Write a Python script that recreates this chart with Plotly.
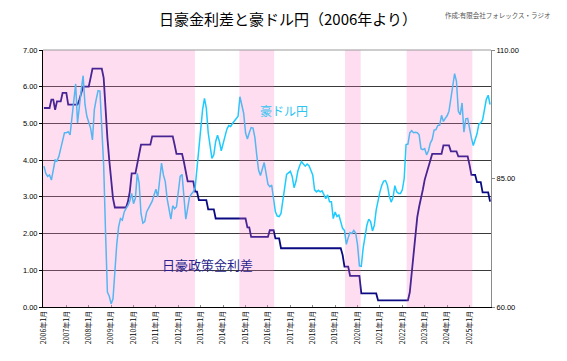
import plotly.graph_objects as go

YEARS = list(range(2006, 2026))
MONTH_LABELS = [f"{y}年{m}月" for y in YEARS for m in range(1, 13)]
TICK_LABELS = [f"{y}年1月" for y in YEARS]

# 日豪政策金利差 (%), monthly, Jan 2006 - Dec 2025
RATE_DIFF = [
    5.42, 5.42, 5.42, 5.42, 5.65, 5.65, 5.37, 5.60, 5.60, 5.60, 5.83, 5.83,  # 2006
    5.83, 5.51, 5.51, 5.51, 5.51, 5.51, 5.51, 5.65, 5.80, 6.00, 6.00, 6.00,  # 2007
    6.00, 6.24, 6.49, 6.49, 6.49, 6.49, 6.49, 6.49, 6.24, 5.30, 4.60, 4.00,  # 2008
    3.40, 2.96, 2.71, 2.71, 2.71, 2.71, 2.71, 2.71, 2.71, 2.87, 3.14, 3.64,  # 2009
    3.64, 3.64, 3.90, 4.14, 4.42, 4.42, 4.42, 4.42, 4.42, 4.42, 4.65, 4.65,  # 2010
    4.65, 4.65, 4.65, 4.65, 4.65, 4.65, 4.65, 4.65, 4.65, 4.65, 4.42, 4.17,  # 2011
    4.17, 4.17, 4.17, 3.95, 3.67, 3.42, 3.42, 3.42, 3.42, 3.14, 3.14, 2.91,  # 2012
    2.91, 2.91, 2.91, 2.91, 2.66, 2.66, 2.66, 2.66, 2.41, 2.41, 2.41, 2.41,  # 2013
    2.41, 2.41, 2.41, 2.41, 2.41, 2.41, 2.41, 2.41, 2.41, 2.41, 2.41, 2.41,  # 2014
    2.41, 2.17, 2.17, 1.91, 1.91, 1.91, 1.91, 1.91, 1.91, 1.91, 1.91, 1.91,  # 2015
    1.91, 2.09, 2.09, 2.09, 1.87, 1.87, 1.87, 1.60, 1.60, 1.60, 1.60, 1.60,  # 2016
    1.60, 1.60, 1.60, 1.60, 1.60, 1.60, 1.60, 1.60, 1.60, 1.60, 1.60, 1.60,  # 2017
    1.60, 1.60, 1.60, 1.60, 1.60, 1.60, 1.60, 1.60, 1.60, 1.60, 1.60, 1.60,  # 2018
    1.60, 1.60, 1.60, 1.60, 1.42, 1.10, 1.10, 1.10, 0.85, 0.85, 0.85, 0.85,  # 2019
    0.85, 0.85, 0.37, 0.37, 0.37, 0.37, 0.37, 0.37, 0.37, 0.37, 0.37, 0.18,  # 2020
    0.18, 0.18, 0.18, 0.18, 0.18, 0.18, 0.18, 0.18, 0.18, 0.18, 0.18, 0.18,  # 2021
    0.18, 0.18, 0.18, 0.18, 0.40, 0.93, 1.50, 2.00, 2.45, 2.73, 2.94, 3.20,  # 2022
    3.47, 3.65, 3.80, 4.00, 4.17, 4.17, 4.17, 4.17, 4.17, 4.17, 4.40, 4.40,  # 2023
    4.40, 4.40, 4.24, 4.24, 4.24, 4.24, 4.10, 4.10, 4.10, 4.10, 4.10, 4.10,  # 2024
    3.87, 3.60, 3.60, 3.60, 3.40, 3.40, 3.40, 3.12, 3.12, 3.12, 3.12, 2.87,  # 2025
]

# 豪ドル円 (円), monthly, Jan 2006 - Dec 2025
AUDJPY = [
    87.4, 86.0, 85.4, 85.7, 84.7, 86.4, 88.6, 88.4, 89.3, 90.8, 92.2, 93.9,  # 2006
    93.9, 94.1, 93.5, 97.1, 100.0, 103.4, 95.8, 99.7, 102.3, 105.0, 99.4, 97.1,  # 2007
    95.8, 94.8, 92.5, 98.4, 100.4, 102.1, 102.0, 94.5, 87.6, 74.6, 62.9, 62.1,  # 2008
    60.6, 61.6, 67.5, 72.1, 75.6, 77.2, 76.9, 78.5, 79.2, 79.7, 80.6, 82.1,  # 2009
    80.1, 81.2, 86.0, 84.1, 78.2, 76.3, 76.6, 78.5, 79.2, 80.0, 80.6, 81.8,  # 2010
    82.9, 81.4, 85.0, 88.0, 85.7, 84.4, 81.1, 79.3, 77.1, 79.7, 79.1, 79.5,  # 2011
    82.4, 85.4, 85.8, 80.8, 77.1, 79.2, 81.4, 82.0, 82.4, 83.2, 87.4, 91.2,  # 2012
    95.4, 98.4, 100.6, 98.7, 93.9, 90.9, 88.9, 89.6, 92.2, 93.4, 92.2, 90.4,  # 2013
    91.7, 93.4, 94.6, 95.3, 95.1, 95.7, 96.1, 96.7, 97.1, 100.9, 99.3, 97.7,  # 2014
    93.9, 92.7, 93.9, 94.9, 94.8, 93.0, 89.6, 86.6, 85.6, 87.0, 88.1, 86.0,  # 2015
    83.9, 83.4, 83.7, 81.1, 78.5, 77.7, 77.6, 78.2, 80.6, 82.9, 85.8, 86.1,  # 2016
    86.4, 85.4, 83.2, 84.4, 86.4, 87.5, 88.3, 87.8, 87.4, 87.8, 87.5, 86.6,  # 2017
    85.7, 82.8, 82.4, 82.7, 82.4, 82.6, 81.9, 81.1, 81.8, 80.5, 80.5, 77.2,  # 2018
    78.5, 77.6, 77.9, 76.7, 75.3, 74.9, 72.2, 73.5, 74.5, 74.3, 74.9, 74.4,  # 2019
    72.1, 68.0, 67.9, 71.4, 74.1, 75.9, 77.1, 76.6, 74.8, 75.9, 78.9, 80.8,  # 2020
    82.4, 83.7, 84.5, 84.6, 83.7, 81.6, 80.4, 81.3, 83.6, 82.4, 82.1, 82.1,  # 2021
    82.8, 85.0, 91.6, 91.7, 93.9, 94.3, 93.9, 94.0, 93.9, 93.5, 90.8, 90.6,  # 2022
    90.8, 89.6, 90.4, 91.9, 92.6, 94.4, 94.5, 95.3, 95.4, 97.3, 96.1, 96.7,  # 2023
    97.2, 98.1, 100.6, 103.4, 105.4, 103.9, 98.1, 97.4, 99.7, 94.0, 96.6, 96.7,  # 2024
    94.5, 92.9, 91.4, 92.6, 93.7, 95.6, 95.8, 96.4, 98.1, 100.4, 101.2, 99.4,  # 2025
]

# shaded periods (category positions)
BAND_START = [-0.5, 104.7, 161.3, 194.3]
BAND_END = [80.9, 123.3, 169.7, 229.5]

FONT_JP = "Noto Sans CJK JP"

fig = go.Figure()
fig.add_trace(go.Scatter(
    x=MONTH_LABELS, y=AUDJPY, yaxis="y2", mode="lines",
    line=dict(color="#1ECBFF", width=1.5), name="豪ドル円",
))
fig.add_trace(go.Scatter(
    x=MONTH_LABELS, y=RATE_DIFF, yaxis="y", mode="lines",
    line=dict(color="#0A0A82", width=1.8), name="日豪政策金利差",
))

shapes = []
for s, e in zip(BAND_START, BAND_END):
    shapes.append(dict(type="rect", xref="x", yref="paper", x0=s, x1=e, y0=0, y1=1,
                       fillcolor="rgb(255,120,200)", opacity=0.25, layer="above",
                       line=dict(width=0)))
shapes.append(dict(type="line", xref="paper", yref="paper", x0=0, x1=1, y0=1, y1=1,
                   line=dict(color="#9a9a9a", width=1), layer="above"))

fig.update_layout(
    width=567, height=361,
    margin=dict(l=43, r=76, t=50, b=54),
    paper_bgcolor="white", plot_bgcolor="white",
    showlegend=False, hovermode=False,
    font=dict(family=FONT_JP, size=7, color="#000000"),
    title=dict(text="日豪金利差と豪ドル円（2006年より）", x=0.508, y=0.946,
               xanchor="center", yanchor="middle",
               font=dict(family=FONT_JP, size=15, color="#000000")),
    xaxis=dict(type="category", range=[-0.5, 239.5],
               tickmode="array", tickvals=TICK_LABELS, ticktext=TICK_LABELS,
               tickangle=-90, tickfont=dict(family=FONT_JP, size=7),
               showgrid=False, showline=True, linecolor="#000000", linewidth=1,
               ticks="inside", ticklen=2, tickcolor="#888888"),
    yaxis=dict(range=[0, 7], dtick=1, tickformat=".2f",
               tickfont=dict(family="Liberation Sans", size=7.5),
               showgrid=True, gridcolor="#3a3a3a", gridwidth=1,
               zeroline=False, showline=True, linecolor="#000000", linewidth=1,
               ticks="outside", ticklen=3, tickcolor="#000000"),
    yaxis2=dict(overlaying="y", side="right", range=[60, 110],
                tickvals=[60, 85, 110], tickformat=".2f",
                tickfont=dict(family="Liberation Sans", size=7.5),
                showgrid=False, zeroline=False, showline=True,
                linecolor="#8a8a8a", linewidth=1,
                ticks="outside", ticklen=3, tickcolor="#8a8a8a"),
    shapes=shapes,
    annotations=[
        dict(text="豪ドル円", xref="paper", yref="paper", x=0.538, y=0.764,
             showarrow=False, xanchor="center", yanchor="middle",
             font=dict(family=FONT_JP, size=12, color="#2EC4F2")),
        dict(text="日豪政策金利差", xref="paper", yref="paper", x=0.368, y=0.167,
             showarrow=False, xanchor="center", yanchor="middle",
             font=dict(family=FONT_JP, size=13, color="#2A1F8C")),
        dict(text="作成:有限会社フォレックス・ラジオ", xref="paper", yref="paper",
             x=1.0145, y=1.137, showarrow=False, xanchor="center", yanchor="middle",
             font=dict(family=FONT_JP, size=6.5, color="#555555")),
    ],
)

fig.write_html("out.html", config={"displayModeBar": False, "staticPlot": True},
               post_script="document.body.style.margin='0';document.body.style.overflow='hidden';")
